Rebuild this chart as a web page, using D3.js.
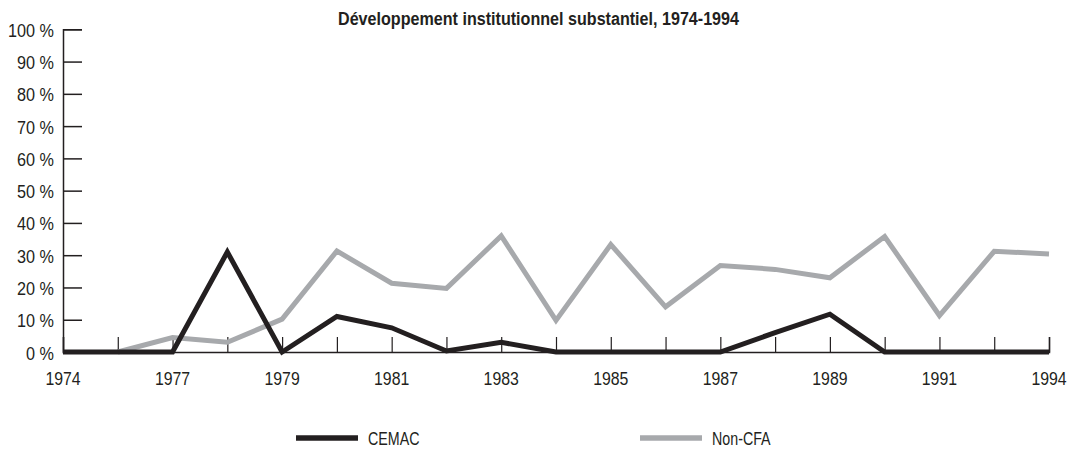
<!DOCTYPE html>
<html>
<head>
<meta charset="utf-8">
<script src="https://cdn.jsdelivr.net/npm/d3@7"></script>
<style>
  html, body { margin: 0; padding: 0; background: #fff; overflow: hidden; }
  svg { display: block; font-family: "Liberation Sans", Arial, sans-serif; }
  .tick-label { font-size: 18px; fill: #231f20; }
  .legend-label { font-size: 19px; fill: #231f20; }
  .title { font-size: 18px; font-weight: bold; fill: #231f20; }
</style>
</head>
<body>
<div id="chart"></div>
<script>
// Categories (19 points; only some years are labelled)
const years = ["1974", "1976", "1977", "1978", "1979", "1980", "1981", "1982", "1983", "1984",
               "1985", "1986", "1987", "1988", "1989", "1990", "1991", "1993", "1994"];
const shownYears = ["1974", "1977", "1979", "1981", "1983", "1985", "1987", "1989", "1991", "1994"];
const yTicks = [0, 10, 20, 30, 40, 50, 60, 70, 80, 90, 100];

// Series values (%)
const cemac = [0, 0, 0, 31, 0, 11, 7.5, 0.3, 3, 0, 0, 0, 0, 6, 11.7, 0, 0, 0, 0];
const nonCfa = [null, 0, 4.5, 3, 10.2, 31.3, 21.3, 19.7, 36, 9.8, 33.3, 14, 26.8, 25.6, 23, 35.8, 11.3, 31.2, 30.4];

const seriesNames = ["CEMAC", "Non-CFA"];
const seriesColors = ["#231f20", "#a7a9ac"];

const width = 1070, height = 451;
const margin = { left: 63, right: 21, top: 29.3, bottom: 99 };
const innerWidth = width - margin.left - margin.right;
const innerHeight = height - margin.top - margin.bottom;

const svg = d3.select("#chart")
    .append("svg")
    .attr("width", width)
    .attr("height", height);

const x = d3.scalePoint().domain(years).range([margin.left, margin.left + innerWidth]);
const y = d3.scaleLinear().domain([0, 100]).range([margin.top + innerHeight, margin.top]);

// narrow font look: squeeze glyphs horizontally with textLength
const squeeze = (sel, k) => sel.each(function () {
    const len = this.getComputedTextLength();
    d3.select(this)
        .attr("textLength", len * k)
        .attr("lengthAdjust", "spacingAndGlyphs");
});

// Title, squeezed to the width it has in the source
const title = svg.append("text")
    .attr("class", "title")
    .attr("x", 538.5)
    .attr("y", 25)
    .attr("text-anchor", "middle")
    .text("Développement institutionnel substantiel, 1974-1994");
squeeze(title, 401 / title.node().getComputedTextLength());

// Left axis (ticks point inward)
const leftAxis = d3.axisRight(y).tickValues(yTicks).tickSize(19).tickFormat("");
const gy = svg.append("g")
    .attr("transform", `translate(${margin.left},0)`)
    .call(leftAxis);
gy.select(".domain").attr("stroke", "#231f20").attr("stroke-width", 1.5);
gy.selectAll(".tick line").attr("stroke", "#231f20").attr("stroke-width", 1.5);

svg.append("g").selectAll("text")
    .data(yTicks)
    .join("text")
    .attr("class", "tick-label")
    .attr("x", 54)
    .attr("y", d => y(d) + 7.5)
    .attr("text-anchor", "end")
    .text(d => d + " %")
    .call(squeeze, 0.9);

// Bottom axis (ticks point upward)
const bottomAxis = d3.axisTop(x).tickSize(15).tickFormat("");
const gx = svg.append("g")
    .attr("transform", `translate(0,${y(0)})`)
    .call(bottomAxis);
gx.select(".domain").attr("stroke", "#231f20").attr("stroke-width", 1.5);
gx.selectAll(".tick line").attr("stroke", "#231f20").attr("stroke-width", 1.2);

svg.append("g").selectAll("text")
    .data(shownYears)
    .join("text")
    .attr("class", "tick-label")
    .attr("x", d => x(d))
    .attr("y", y(0) + 33)
    .attr("text-anchor", "middle")
    .text(d => d)
    .call(squeeze, 0.88);

// Lines
const line = d3.line()
    .defined(d => d.v !== null)
    .x(d => x(d.year))
    .y(d => y(d.v));

const series = [cemac, nonCfa];
// draw gray first so black sits on top
[1, 0].forEach(i => {
    const pts = years.map((yr, j) => ({ year: yr, v: series[i][j] }));
    svg.append("path")
        .datum(pts)
        .attr("fill", "none")
        .attr("stroke", seriesColors[i])
        .attr("stroke-width", 5)
        .attr("stroke-linejoin", "miter")
        .attr("d", line);
});

// Legend
const legendX = [296, 640];
seriesNames.forEach((name, i) => {
    const g = svg.append("g").attr("transform", `translate(${legendX[i]}, 438)`);
    g.append("line")
        .attr("x1", 0).attr("x2", 62)
        .attr("y1", 0).attr("y2", 0)
        .attr("stroke", seriesColors[i])
        .attr("stroke-width", 5.5);
    g.append("text")
        .attr("class", "legend-label")
        .attr("x", 72)
        .attr("y", 7)
        .text(name)
        .call(squeeze, 0.75);
});
</script>
</body>
</html>
